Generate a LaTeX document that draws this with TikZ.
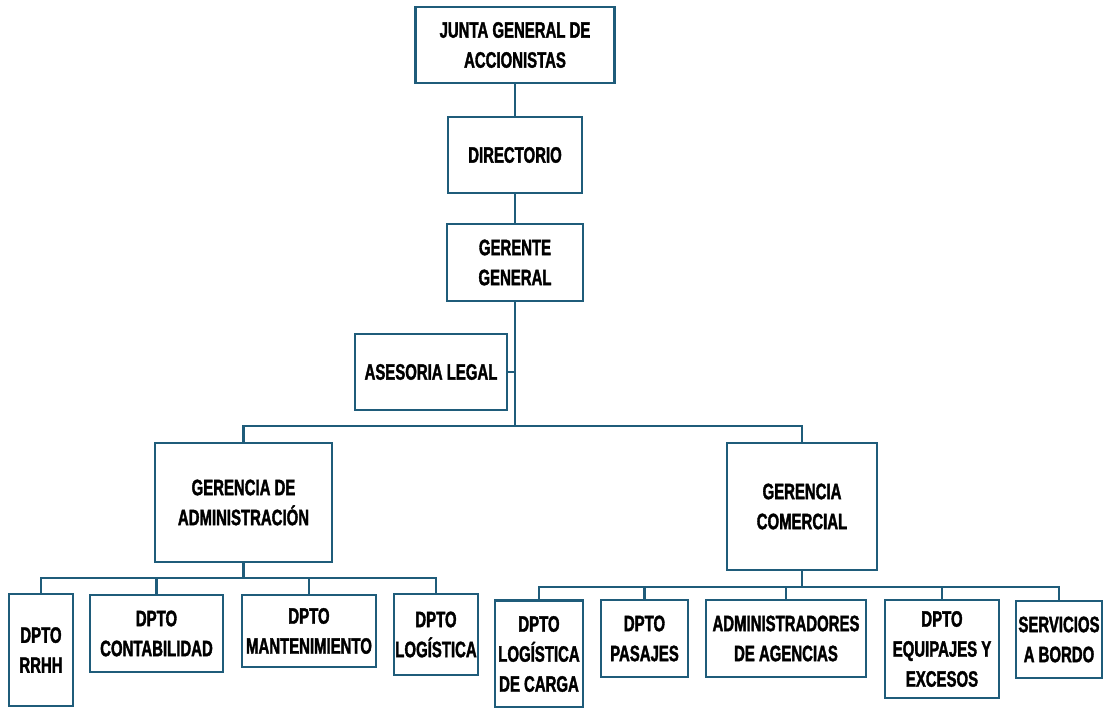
\documentclass[tikz,border=0pt]{standalone}
\usepackage{fontspec}
\newfontfamily\orgfont{Liberation Sans}[FakeStretch=0.67,BoldFeatures={FakeBold=1.6}]
\definecolor{orgline}{RGB}{31,92,122}

\begin{document}
\begin{tikzpicture}[x=1pt,y=-1pt,
  box/.style={draw=orgline,line width=2.8pt,fill=white,inner sep=0pt,align=center,
    font=\orgfont\bfseries\fontsize{22.3}{30}\selectfont},
  link/.style={draw=orgline,line width=2.8pt}]
\useasboundingbox (0,0) rectangle (1105,708);
% top of the chart
\node[box,minimum width=199pt,minimum height=76pt] (junta) at (515,45) {JUNTA GENERAL DE\\ACCIONISTAS};
\node[box,minimum width=134pt,minimum height=76pt] (dir) at (515,155) {DIRECTORIO};
\node[box,minimum width=136pt,minimum height=77pt] (gg) at (515,262.5) {GERENTE\\GENERAL};
\node[box,minimum width=152pt,minimum height=76pt] (ases) at (431,372) {ASESORIA LEGAL};
\node[box,minimum width=177pt,minimum height=119pt] (gadm) at (243.5,502.5) {GERENCIA DE\\ADMINISTRACIÓN};
\node[box,minimum width=150pt,minimum height=127pt] (gcom) at (802,506.5) {GERENCIA\\COMERCIAL};
% departamentos de administracion
\node[box,minimum width=64pt,minimum height=112pt] (rrhh) at (41,650) {DPTO\\RRHH};
\node[box,minimum width=133pt,minimum height=77pt] (cont) at (156.5,633.5) {DPTO\\CONTABILIDAD};
\node[box,minimum width=134pt,minimum height=72pt] (mant) at (309,631) {DPTO\\MANTENIMIENTO};
\node[box,minimum width=84pt,minimum height=81pt] (logi) at (436,634.5) {DPTO\\LOGÍSTICA};
% departamentos comerciales
\node[box,minimum width=88pt,minimum height=107pt] (carga) at (539,654) {DPTO\\LOGÍSTICA\\DE CARGA};
\node[box,minimum width=87pt,minimum height=77pt] (pas) at (644.5,638.5) {DPTO\\PASAJES};
\node[box,minimum width=160pt,minimum height=77pt] (agen) at (786,638.5) {ADMINISTRADORES\\DE AGENCIAS};
\node[box,minimum width=114pt,minimum height=98pt] (equi) at (942,649) {DPTO\\EQUIPAJES Y\\EXCESOS};
\node[box,minimum width=86pt,minimum height=77pt] (serv) at (1059,639.5) {SERVICIOS\\A BORDO};
\coordinate (bar) at (515,426);
\coordinate (abar) at (243.5,578);
\coordinate (cbar) at (802,587);
\draw[link] (junta) -- (dir);
\draw[link] (dir) -- (gg);
\draw[link] (gg) -- (bar);
\draw[link] (ases.east) -- (ases.east -| gg.south);
\draw[link] (gadm.north) |- (bar) -| (gcom.north);
\draw[link] (gadm) -- (abar);
\draw[link] (rrhh.north) |- (abar) -| (logi.north);
\draw[link] (cont.north) -- (cont.north |- abar);
\draw[link] (mant.north) -- (mant.north |- abar);
\draw[link] (gcom) -- (cbar);
\draw[link] (carga.north) |- (cbar) -| (serv.north);
\draw[link] (pas.north) -- (pas.north |- cbar);
\draw[link] (agen.north) -- (agen.north |- cbar);
\draw[link] (equi.north) -- (equi.north |- cbar);
\end{tikzpicture}
\end{document}
